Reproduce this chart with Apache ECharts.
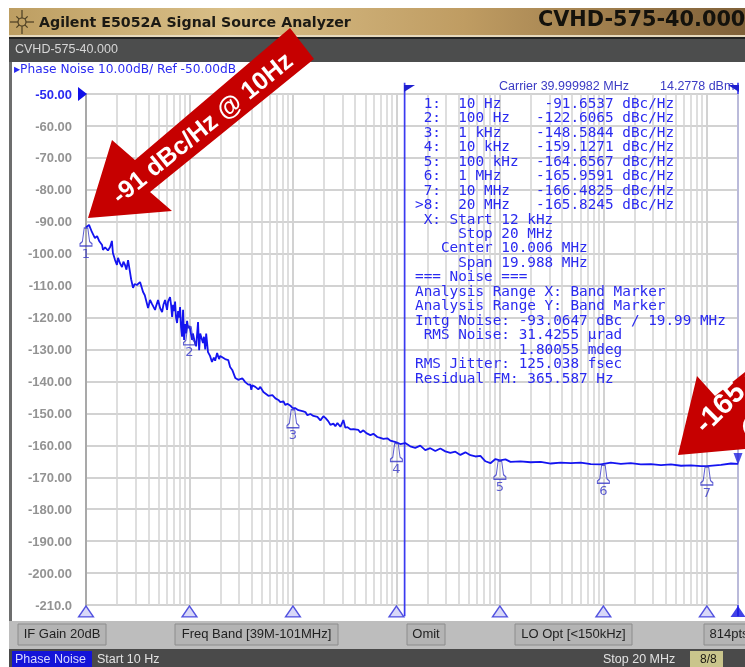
<!DOCTYPE html>
<html>
<head>
<meta charset="utf-8">
<style>
html,body{margin:0;padding:0;background:#fff;}
#chart{width:745px;height:667px;filter:blur(0.45px);}
</style>
<script src="https://cdn.jsdelivr.net/npm/echarts@6/dist/echarts.min.js"></script>
</head>
<body>
<div id="chart"></div>
<script>
// values
const freqHz = [
  10,10.7,11.4,12.2,12.8,13.4,14.3,14.6,15.3,16.3,17.1,17.8,18.2,19.1,19.9,20.4,21.3,22.3,23,23.8,
  24.6,25.5,26.6,27.3,28.5,29.5,31,33.3,35.6,37,39.8,41.6,43.5,46.5,47.5,49.7,52,54.4,56,58.1,
  60.7,62.1,64.9,66.4,67.9,69.4,71,72.6,74.2,75.9,77.6,79.3,81.1,82.9,84.8,86.7,88.7,90.7,92.7,94.8,
  97,100,106,108,113,116,121,124,127,130,135,138,142,145,148,151,158,165,172,177,
  185,193,198,207,221,237,247,259,277,296,324,346,370,387,396,405,433,463,484,518,
  541,579,605,633,677,723,756,808,845,884,945,988,1000,1056,1129,1180,1261,1319,1379,1474,
  1576,1723,1842,1969,2059,2200,2300,2460,2570,2690,2875,3070,3210,3360,3590,3840,4010,4290,4480,4790,
  5120,5600,5990,6540,6990,7470,8160,8720,9320,10000,10880,12170,13600,15200,17000,19000,21250,23760,26560,29700,
  33200,37100,41500,46400,51900,58000,64800,72500,81000,90600,100000,113200,126600,158000,198000,248000,310000,387000,484000,605000,
  756000,945000,1180000,1475000,1840000,2300000,2880000,3600000,4500000,5630000,7030000,8790000,10000000,13700000,17100000,20000000
];
const phaseNoise = [
  -91.7,-91,-93.2,-95.1,-94.5,-96,-97.3,-98.8,-98,-99,-97.9,-96,-99.8,-102,-103.5,-101.3,-103,-104.2,-102.5,-103.5,
  -105,-102,-105.7,-108,-110.7,-109.5,-109.8,-108.9,-112,-113,-117,-114.5,-115.8,-117.6,-116.5,-114.5,-117,-118.3,-116,-114.5,
  -117.6,-115,-113.6,-116,-119.8,-116,-118,-115,-120.1,-121.7,-118,-120,-116.7,-123,-126,-117.6,-127,-122,-125,-121,
  -123.3,-122.6,-127,-125,-128,-129,-121.4,-130.2,-125,-124.5,-128,-126,-130,-125,-124.8,-130.8,-132,-133.9,-132.5,-133.5,
  -131.1,-133,-132,-132.6,-133,-133.3,-135.5,-136.4,-138.9,-139.5,-139,-140.2,-141,-140.9,-142.6,-141.2,-141.7,-142.5,-141.7,-143.3,
  -142.8,-144.5,-144.9,-144.3,-145.3,-145.8,-146.5,-146.2,-147.4,-147,-147.6,-148.3,-148.6,-148.4,-149,-148.5,-149.4,-149.6,-150.6,-150.2,
  -150.8,-151.1,-152.2,-150.9,-151.4,-152.5,-153.6,-153.2,-154,-153,-154.2,-152.1,-154.5,-154.3,-155,-154.9,-155.3,-155.2,-156,-155.3,
  -156.2,-156.8,-156.4,-157.4,-157.7,-158,-157.8,-158.5,-158.8,-159.1,-159.6,-159.3,-160.3,-160.8,-160.1,-161.5,-160.9,-161.8,-161,-161.9,
  -162.4,-162,-163,-162.2,-163.1,-163.5,-163.3,-165,-165.6,-164.3,-164.7,-164.4,-165.2,-165,-165.3,-165.2,-165.7,-165.4,-165.6,-165.4,
  -165.9,-166,-165.4,-165.8,-165.6,-166,-165.9,-166.2,-166,-166.4,-166.3,-166.5,-166.5,-166.1,-165.7,-165.8
];
const markerFreq = [10,100,1000,10000,100000,1000000,10000000];
const markerValue = [-91.6537,-122.6065,-148.5844,-159.1271,-164.6567,-165.9591,-166.4825];
const activeMarkerFreq = 20000000;
const activeMarkerValue = -165.8245;
const bandFreq = [12000,20000000];
const bandRange = [-46.5,-213.5];
const markerTable = [
  ' 1:  10 Hz     -91.6537 dBc/Hz',
  ' 2:  100 Hz   -122.6065 dBc/Hz',
  ' 3:  1 kHz    -148.5844 dBc/Hz',
  ' 4:  10 kHz   -159.1271 dBc/Hz',
  ' 5:  100 kHz  -164.6567 dBc/Hz',
  ' 6:  1 MHz    -165.9591 dBc/Hz',
  ' 7:  10 MHz   -166.4825 dBc/Hz',
  '>8:  20 MHz   -165.8245 dBc/Hz',
  ' X: Start 12 kHz',
  '     Stop 20 MHz',
  '   Center 10.006 MHz',
  '     Span 19.988 MHz',
  '=== Noise ===',
  'Analysis Range X: Band Marker',
  'Analysis Range Y: Band Marker',
  'Intg Noise: -93.0647 dBc / 19.99 MHz',
  ' RMS Noise: 31.4255 µrad',
  '            1.80055 mdeg',
  'RMS Jitter: 125.038 fsec',
  'Residual FM: 365.587 Hz'
];
const softKeys = [
  ['IF Gain 20dB',18,88],
  ['Freq Band [39M-101MHz]',175,163],
  ['Omit',407,38],
  ['LO Opt [<150kHz]',515,117],
  ['814pts',704,50]
];

const BLUE = '#2a2af0';

// log grid lines between the decades
let minorFreq = [];
for (let d = 10; d < 20000000; d *= 10) {
  for (let k = 2; k <= 9; k++) {
    if (d * k <= 20000000) minorFreq.push(d * k);
  }
}

const chart = echarts.init(document.getElementById('chart'), null, {renderer: 'canvas'});

function txt(x, y, text, fill, font, extra) {
  return {type: 'text', z: 20, style: Object.assign({x: x, y: y, text: text, fill: fill, font: font, textVerticalAlign: 'middle'}, extra || {})};
}

let chrome = [
  // title bar
  {type: 'rect', shape: {x: 9, y: 8, width: 736, height: 28}, style: {
    fill: new echarts.graphic.LinearGradient(0, 0, 1, 0, [
      {offset: 0, color: '#bd9e62'}, {offset: 0.3, color: '#d9bf88'},
      {offset: 0.62, color: '#bf9c62'}, {offset: 1, color: '#7f6038'}
    ])
  }},
  {type: 'rect', shape: {x: 9, y: 35, width: 736, height: 2}, style: {fill: '#e6d9bd'}},
  {type: 'rect', shape: {x: 9, y: 37, width: 736, height: 25}, style: {fill: '#4c4d4d'}},
  {type: 'rect', shape: {x: 9, y: 37, width: 736, height: 2}, style: {fill: '#222'}},
  // left edge of the screen
  {type: 'rect', shape: {x: 9, y: 62, width: 3, height: 560}, style: {fill: '#6d6e6e'}},
  // softkey strip and status bar
  {type: 'rect', shape: {x: 9, y: 621, width: 736, height: 28}, style: {fill: '#bdbdbd'}},
  {type: 'rect', shape: {x: 9, y: 649, width: 736, height: 18}, style: {fill: '#4a4a4a'}},
  {type: 'rect', shape: {x: 12, y: 651, width: 80, height: 16}, style: {fill: '#1414d8'}},
  {type: 'rect', shape: {x: 690, y: 651, width: 33, height: 16}, style: {fill: '#c9c58c'}},
  txt(39, 23, 'Agilent E5052A Signal Source Analyzer', '#1c1a14', 'bold 14.2px "DejaVu Sans"'),
  txt(538, 21, 'CVHD-575-40.000', '#14120c', 'bold 20.8px "DejaVu Sans"'),
  txt(15, 50, 'CVHD-575-40.000', '#d6d6d6', '12.5px "Liberation Sans"'),
  txt(14, 70, '▸Phase Noise 10.00dB/ Ref -50.00dB', BLUE, '12.2px "DejaVu Sans"'),
  txt(499, 87, 'Carrier 39.999982 MHz', '#3a3ac4', '12.5px "Liberation Sans"'),
  txt(660, 87, '14.2778 dBm', '#3a3ac4', '12.5px "Liberation Sans"'),
  txt(97, 660, 'Start 10 Hz', '#e2e2e2', '12.5px "Liberation Sans"'),
  txt(603, 660, 'Stop 20 MHz', '#e2e2e2', '12.5px "Liberation Sans"'),
  txt(15, 660, 'Phase Noise', '#d8d8ff', '12.5px "Liberation Sans"'),
  txt(700, 660, '8/8', '#1c1a14', '12px "Liberation Sans"'),
  // marker readout
  {type: 'text', z: 20, style: {x: 415, y: 97, text: markerTable.join('\n'), fill: BLUE, font: '14.35px "DejaVu Sans Mono"', lineHeight: 14.45}},
  // reference level pointer and band flags
  {type: 'polygon', z: 20, shape: {points: [[78, 87], [87, 94], [78, 101]]}, style: {fill: '#1010e8'}},
  {type: 'polygon', z: 20, shape: {points: [[404, 85], [415, 85], [404, 92]]}, style: {fill: '#2020d0'}},
  {type: 'polygon', z: 20, shape: {points: [[739, 85], [728, 85], [739, 92]]}, style: {fill: '#2020d0'}},
  // red callouts
  {type: 'polygon', z: 30, shape: {points: [[88, 218], [112, 140], [135, 160], [290, 28], [314, 59], [150, 192], [172, 211]]}, style: {fill: '#c60000'}},
  {type: 'polygon', z: 30, shape: {points: [[678, 455], [697, 376], [715, 396], [745, 372], [745, 449]]}, style: {fill: '#c60000'}},
  {type: 'text', z: 31, rotation: 39 * Math.PI / 180, x: 203, y: 129, style: {x: 0, y: 0, text: '-91 dBc/Hz @ 10Hz', fill: '#fff', font: 'bold 25px "Liberation Sans"', align: 'center', verticalAlign: 'middle'}},
  {type: 'text', z: 31, rotation: 45 * Math.PI / 180, x: 700, y: 429, style: {x: 0, y: 0, text: '-165 dBc/Hz', fill: '#fff', font: 'bold 29px "Liberation Sans"', align: 'left', verticalAlign: 'middle'}},
  {type: 'text', z: 31, rotation: 45 * Math.PI / 180, x: 745, y: 436, style: {x: 0, y: 0, text: '@ 20MHz', fill: '#fff', font: 'bold 29px "Liberation Sans"', align: 'left', verticalAlign: 'middle'}}
];

// softkeys
softKeys.forEach(function (k) {
  chrome.push({type: 'rect', shape: {x: k[1], y: 624, width: k[2], height: 21}, style: {fill: '#b4b4b4', stroke: '#8c8c8c'}});
  chrome.push(txt(k[1] + k[2] / 2, 634.5, k[0], '#222', '13px "Liberation Sans"', {align: 'center'}));
});

// agilent spark in the title bar
for (let i = 0; i < 8; i++) {
  let a = i * Math.PI / 4, r = i % 2 ? 8 : 12;
  chrome.push({type: 'line', shape: {x1: 22 + 4 * Math.cos(a), y1: 22 + 4 * Math.sin(a), x2: 22 + r * Math.cos(a), y2: 22 + r * Math.sin(a)}, style: {stroke: '#4a3d22', lineWidth: 1.2}});
}
chrome.push({type: 'circle', shape: {cx: 22, cy: 22, r: 4}, style: {stroke: '#4a3d22', fill: 'none', lineWidth: 1.2}});

const bellPath = 'path://M3.5 0 L6.5 0 L8 12 L10 14 L10 16 L0 16 L0 14 L2 12 Z';

const bandSeries = bandFreq.map(function (f) {
  return {
    name: 'band ' + f,
    type: 'line',
    data: bandRange.map(function (y) { return [f, y]; }),
    showSymbol: false,
    symbol: 'none',
    silent: true,
    clip: false,
    z: 3,
    lineStyle: {color: '#3a3af0', width: 1.7}
  };
});

const option = {
  animation: false,
  backgroundColor: '#fff',
  graphic: {elements: chrome},
  grid: {left: 86, right: 7, top: 94, height: 511, containLabel: false},
  xAxis: {
    type: 'log',
    logBase: 10,
    min: 10,
    max: 20000000,
    axisLabel: {show: false},
    axisTick: {show: false},
    axisLine: {show: false},
    splitLine: {show: true, lineStyle: {color: '#d2d2d2', width: 2}}
  },
  yAxis: {
    type: 'value',
    min: -210,
    max: -50,
    interval: 10,
    axisTick: {show: false},
    axisLine: {show: true, onZero: false, lineStyle: {color: '#a9a9a9', width: 2}},
    splitLine: {show: true, lineStyle: {color: '#d2d2d2', width: 2}},
    axisLabel: {
      margin: 14,
      formatter: function (v) {
        if (v === -50) return '{top|-50.00}';
        if (v === -210) return '{plain|-210.0}';
        return '{plain|' + v.toFixed(2) + '}';
      },
      rich: {
        top: {color: '#2a2af0', fontWeight: 'bold', fontSize: 13, fontFamily: 'Liberation Sans', padding: [2, 0, 0, 0]},
        plain: {color: '#939393', fontWeight: 'bold', fontSize: 13, fontFamily: 'Liberation Sans', padding: [2, 0, 0, 0]}
      }
    }
  },
  series: [
    {
      name: 'minor grid',
      type: 'line',
      data: [],
      silent: true,
      z: 1,
      markLine: {
        silent: true,
        animation: false,
        symbol: 'none',
        label: {show: false},
        lineStyle: {color: '#d6d6d6', width: 1.6, type: 'solid'},
        data: minorFreq.map(function (f) { return {xAxis: f}; })
      }
    }
  ].concat(bandSeries).concat([
    {
      name: 'Phase Noise',
      type: 'line',
      data: freqHz.map(function (f, i) { return [f, phaseNoise[i]]; }),
      showSymbol: false,
      symbol: 'none',
      smooth: false,
      clip: false,
      z: 5,
      lineStyle: {color: '#1414f0', width: 1.8}
    },
    {
      name: 'markers',
      type: 'scatter',
      data: markerFreq.map(function (f, i) { return [f, markerValue[i]]; }),
      symbol: bellPath,
      symbolSize: [12, 18],
      symbolOffset: [0, 10],
      clip: false,
      z: 6,
      itemStyle: {color: 'rgba(0,0,0,0)', borderColor: '#3434c8', borderWidth: 1.2},
      label: {
        show: true,
        position: 'bottom',
        distance: 1,
        color: '#3434c8',
        fontFamily: 'DejaVu Sans',
        fontSize: 13,
        formatter: function (p) { return String(p.dataIndex + 1); }
      }
    },
    {
      name: 'active marker',
      type: 'scatter',
      data: [[activeMarkerFreq, activeMarkerValue]],
      symbol: 'triangle',
      symbolRotate: 180,
      symbolSize: [9, 12],
      symbolOffset: [0, -5],
      clip: false,
      z: 6,
      itemStyle: {color: '#2020e0'}
    },
    {
      name: 'axis markers',
      type: 'scatter',
      data: markerFreq.map(function (f) { return [f, -212]; }),
      symbol: 'triangle',
      symbolSize: [15, 11],
      clip: false,
      z: 6,
      itemStyle: {color: 'rgba(60,60,220,0.25)', borderColor: '#2a2ad8', borderWidth: 1.3}
    },
    {
      name: 'axis active marker',
      type: 'scatter',
      data: [[activeMarkerFreq, -212]],
      symbol: 'triangle',
      symbolSize: [15, 11],
      clip: false,
      z: 6,
      itemStyle: {color: '#1414e0'}
    }
  ])
};
chart.setOption(option);
</script>
</body>
</html>
